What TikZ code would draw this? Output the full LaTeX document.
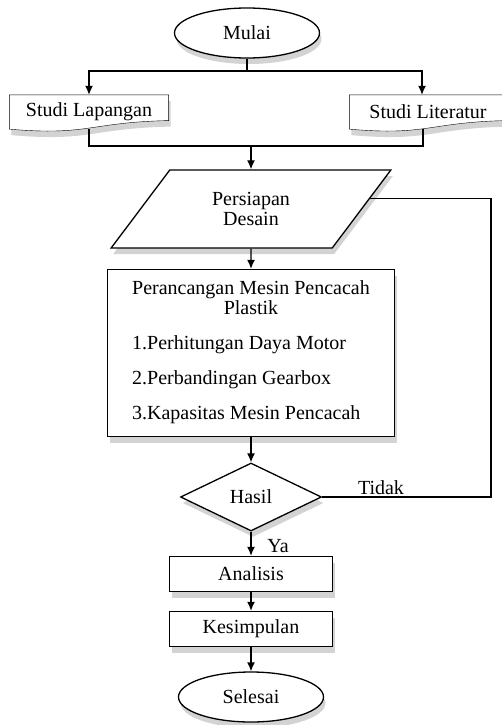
\documentclass[tikz,border=0pt]{standalone}
\usepackage{fontspec}
\setmainfont{Liberation Serif}
\usetikzlibrary{shapes.geometric, arrows.meta, shadows, calc, backgrounds}

\begin{document}
\begin{tikzpicture}[x=1pt, y=1pt, line width=1.3pt, >={Latex[length=9pt,width=8pt]},
 every node/.style = {align=center, font=\fontsize{20}{20}\selectfont},
 boxshadow/.style = {drop shadow={shadow xshift=2pt, shadow yshift=-6pt, opacity=0.35}},
 terminal/.style = {ellipse, draw, fill=white, boxshadow, minimum width=145, minimum height=50, inner sep=0pt},
 process/.style = {rectangle, draw, fill=white, boxshadow, minimum width=163, minimum height=35, inner sep=0pt},
 docbox/.style = {rectangle, minimum width=158, minimum height=33, inner sep=0pt},
 inputbox/.style = {trapezium, trapezium left angle=50, trapezium right angle=130, trapezium stretches=true, draw, fill=white, boxshadow, minimum width=280, minimum height=78, inner sep=0pt},
 decision/.style = {diamond, aspect=2, draw, fill=white, boxshadow, minimum width=141, minimum height=68, inner sep=0pt}]
\useasboundingbox (0,0) rectangle (501,-725);

\node[terminal] (mulai) at (247,-33) {Mulai};
\node[docbox] (lap) at (89,-112) {Studi Lapangan};
\node[docbox, minimum width=156] (lit) at (428,-112) {Studi Literatur};
\node[inputbox] (desain) at (251,-209) {Persiapan\\Desain};
\node[rectangle, draw, fill=white, boxshadow, minimum width=287, minimum height=167, inner sep=0pt] (rancang) at (251,-353) {%
 \begin{tabular}{@{}l@{}}
 \multicolumn{1}{@{}c@{}}{Perancangan Mesin Pencacah}\\
 \multicolumn{1}{@{}c@{}}{Plastik}\\[15pt]
 1.Perhitungan Daya Motor\\[15pt]
 2.Perbandingan Gearbox\\[15pt]
 3.Kapasitas Mesin Pencacah
 \end{tabular}};
\node[decision] (hasil) at (251,-497) {Hasil};
\node[process] (analisis) at (251,-574) {Analisis};
\node[process] (kesimpulan) at (251,-629) {Kesimpulan};
\node[terminal] (selesai) at (251,-697) {Selesai};
\node (tidak) at (381,-488) {Tidak};
\node (ya) at (278,-546) {Ya};

\coordinate (split) at (247,-71);
\coordinate (join) at (251,-146);
\coordinate (loop) at (491,-199);

% document shapes with wavy bottom
\begin{scope}[on background layer]
\foreach \n in {lap, lit}
 \draw[fill=white, boxshadow] (\n.north west) -- (\n.north east) -- ($(\n.north east)!0.75!(\n.south east)$)
  .. controls ($(\n.north)!0.8!(\n.south)$) and ($(\n.north)!1.2!(\n.south)$) .. (\n.south west) -- cycle;
\end{scope}

\draw (mulai) -- (split);
\draw[->] (split) -| (lap.north);
\draw[->] (split) -| ([xshift=-6pt]lit.north);
\draw (lap.south) |- (join) -| ([xshift=-5pt]lit.south);
\draw[->] (join) -- (desain);
\draw[->] (desain) -- (rancang);
\draw[->] (rancang) -- (hasil);
\draw[->] (hasil) -- (analisis);
\draw[->] (analisis) -- (kesimpulan);
\draw[->] (kesimpulan) -- (selesai);
\draw (hasil.east) -| (loop) |- (desain.5);
\end{tikzpicture}
\end{document}
